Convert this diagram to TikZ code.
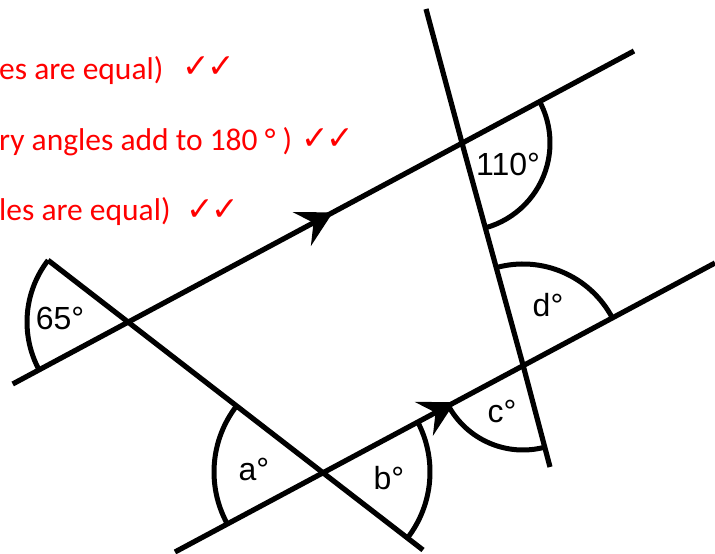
\documentclass[tikz,border=0pt]{standalone}
\usepackage{fontspec}
\setmainfont{Liberation Sans}
\newfontfamily\notefont{Carlito}
\newfontfamily\symfont{DejaVu Sans}
\usetikzlibrary{arrows.meta,decorations.markings,calc}
\begin{document}
\begin{tikzpicture}[x=1pt,y=1pt,
  ln/.style={line width=5.2pt},
  angarc/.style={line width=5pt},
  lbl/.style={font=\fontsize{32}{32}\selectfont, inner sep=0pt},
  note/.style={text=red, font=\notefont\fontsize{31.5}{32}\selectfont, inner sep=0pt, anchor=base west},
  tick/.style={text=red, font=\symfont\fontsize{33}{33}\selectfont, inner sep=0pt, anchor=base west},
  midarrow/.style={postaction={decorate},decoration={markings, mark=at position #1 with {\arrow{Stealth[length=35pt,width=38pt,inset=13pt]}}}}
]
\useasboundingbox (0,0) rectangle (715,554);
\clip (0,0) rectangle (715,554);
\fill[white] (0,0) rectangle (715,554);

% intersection points
\coordinate (P) at (128,232);
\coordinate (Q) at (322,82);
\coordinate (R) at (462,411);
\coordinate (S) at (523,189);
% line ends
\coordinate (A1) at (12.7,170);
\coordinate (A2) at (634,503);
\coordinate (B1) at (175,2);
\coordinate (B2) at (715,291);
\coordinate (T1) at ($(P)+(142.3:101)$);
\coordinate (T1e) at (423,4);
\coordinate (U1) at (426,545);
\coordinate (U2) at (550,87);

% parallel lines with arrows
\draw[ln, midarrow=0.5155] (A1) -- (A2);
\draw[ln, midarrow=0.5185] (B1) -- (B2);
% transversals
\draw[ln] (T1) -- (P) -- (Q) -- (T1e);
\draw[ln] (U1) -- (R) -- (S) -- (U2);

% angle arcs
\draw[angarc] (P) ++(142.3:101) arc[start angle=142.3, end angle=208.2, radius=101];
\draw[angarc] (Q) ++(142.3:108) arc[start angle=142.3, end angle=208.2, radius=108];
\draw[angarc] (Q) ++(-37.7:108) arc[start angle=-37.7, end angle=28.2, radius=108];
\draw[angarc] (R) ++(-74.6:88) arc[start angle=-74.6, end angle=28.2, radius=88];
\draw[angarc] (S) ++(28.2:101) arc[start angle=28.2, end angle=105.4, radius=101];
\draw[angarc] (S) ++(208.2:85) arc[start angle=208.2, end angle=285.4, radius=85];

% angle labels
\node[lbl] (l65) at (60,236) {65°};
\node[lbl] (la) at (254,85) {a°};
\node[lbl] (lb) at (389,76) {b°};
\node[lbl] (l110) at (508,390) {110°};
\node[lbl] (ld) at (548,249) {d°};
\node[lbl] (lc) at (502,143) {c°};

% red notes
\node[tick] (t0) at (10,551) {✓};
\node[note] (n1) at (-1,474) {es are equal)};
\node[tick] (t1) at (182,476) {✓\kern-2pt✓};
\node[note] (n2) at (-1,403) {ry angles add to 180 ° )};
\node[tick] (t2) at (301,404) {✓\kern-2pt✓};
\node[note] (n3) at (-1,333) {les are equal)};
\node[tick] (t3) at (186,333) {✓\kern-2pt✓};
\end{tikzpicture}
\end{document}
